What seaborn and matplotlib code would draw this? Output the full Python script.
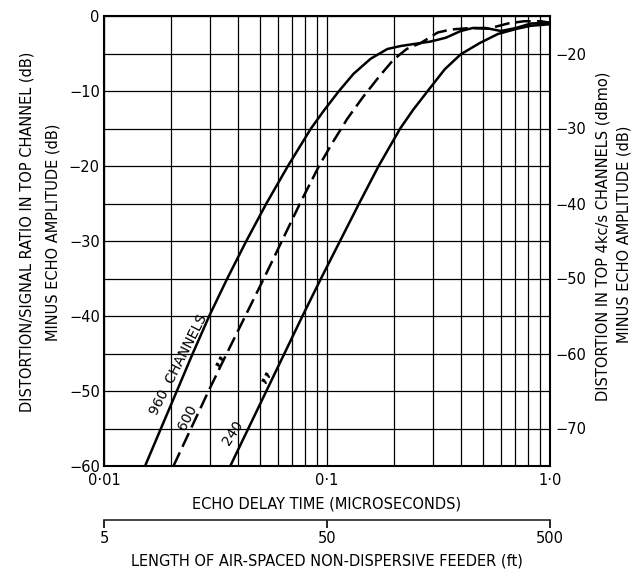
import numpy as np
import pandas as pd
import seaborn as sns
import matplotlib.pyplot as plt
from matplotlib.ticker import FixedLocator, FixedFormatter, NullFormatter, LogLocator

# echo delay (microseconds) vs distortion (dB)
t_960 = [0.01528, 0.01800, 0.02122, 0.02499, 0.02964, 0.03571, 0.04347, 0.05347,
         0.06680, 0.08474, 0.09745, 0.1132, 0.1316, 0.1569, 0.1865, 0.2140,
         0.2632, 0.2919, 0.3409, 0.3981, 0.4507, 0.5157, 0.6021, 0.7035, 0.8214, 1.0]
d_960 = [-60, -55, -50, -45, -40, -35, -30, -25,
         -20, -15, -12.5, -10, -7.7, -5.7, -4.4, -4.0,
         -3.6, -3.4, -2.9, -2.0, -1.6, -1.6, -2.0, -1.6, -1.0, -0.9]

t_600 = [0.02049, 0.02455, 0.02943, 0.03552, 0.04302, 0.05210, 0.06277, 0.07564,
         0.09207, 0.1053, 0.1233, 0.1459, 0.1722, 0.1990, 0.2277, 0.2632,
         0.3138, 0.3590, 0.4415, 0.5265, 0.6474, 0.7640, 0.9111, 1.0]
d_600 = [-60, -55, -50, -45, -40, -35, -30, -25,
         -20, -17, -13.7, -10.7, -8.0, -5.8, -4.4, -3.6,
         -2.2, -1.8, -1.6, -1.7, -1.0, -0.7, -0.7, -0.9]

t_240 = [0.03684, 0.04438, 0.05347, 0.06442, 0.07763, 0.09399, 0.1144, 0.1393,
         0.1704, 0.2129, 0.2435, 0.2829, 0.3374, 0.3981, 0.4845, 0.5837,
         0.7108, 0.8214, 1.0]
d_240 = [-60, -55, -50, -45, -40, -35, -30, -25,
         -20, -15, -12.5, -10, -7.1, -5.1, -3.6, -2.4,
         -1.7, -1.3, -1.1]

x_ticks = [0.01, 0.1, 1.0]
x_ticklabels = ['0·01', '0·1', '1·0']
y_ticks = [0, -10, -20, -30, -40, -50, -60]
right_ticks = [-20, -30, -40, -50, -60, -70]
ft_ticks = [5, 50, 500]

sns.set_style("white")
plt.rcParams['font.family'] = ['DejaVu Sans']
plt.rcParams['font.size'] = 10
for k in ['text.color', 'axes.labelcolor', 'xtick.color', 'ytick.color']:
    plt.rcParams[k] = 'black'

fig = plt.figure(figsize=(6.34, 5.71), dpi=100)
ax = fig.add_axes([104 / 634, 1 - 466 / 571, 446 / 634, 450 / 571])

df_960 = pd.DataFrame({'delay': t_960, 'dB': d_960})
df_600 = pd.DataFrame({'delay': t_600, 'dB': d_600})
df_240 = pd.DataFrame({'delay': t_240, 'dB': d_240})

sns.lineplot(data=df_960, x='delay', y='dB', color='black', linewidth=1.8, ax=ax)
l960 = ax.lines[-1]
sns.lineplot(data=df_600, x='delay', y='dB', color='black', linewidth=1.8, ax=ax)
l600 = ax.lines[-1]
l600.set_dashes((6, 2.5))
sns.lineplot(data=df_240, x='delay', y='dB', color='black', linewidth=1.8, ax=ax)
l240 = ax.lines[-1]
for ln in (l960, l600, l240):
    ln.set_solid_joinstyle('round')
    ln.set_dash_joinstyle('round')

ax.set_xscale('log')
ax.set_xlim(0.01, 1.0)
ax.set_ylim(-60, 0)

ax.xaxis.set_major_locator(FixedLocator(x_ticks))
ax.xaxis.set_major_formatter(FixedFormatter(x_ticklabels))
ax.xaxis.set_minor_locator(LogLocator(base=10, subs=np.arange(2, 10)))
ax.xaxis.set_minor_formatter(NullFormatter())
ax.yaxis.set_major_locator(FixedLocator(y_ticks))
ax.yaxis.set_minor_locator(FixedLocator(np.arange(-55, 0, 10)))
ax.set_yticklabels([str(v).replace('-', '\u2212') for v in y_ticks])

ax.grid(which='both', color='black', linewidth=0.9)
ax.tick_params(which='both', length=0)
ax.tick_params(axis='x', pad=5, labelsize=10.5)
ax.tick_params(axis='y', pad=3, labelsize=10.5)
for s in ax.spines.values():
    s.set_visible(True)
    s.set_color('black')
    s.set_linewidth(1.5)

ax.set_xlabel('ECHO DELAY TIME (MICROSECONDS)', fontsize=10.5, labelpad=6)
ax.set_ylabel('')

# right hand scale
ax2 = ax.twinx()
ax2.set_ylim(-75, -15)
ax2.yaxis.set_major_locator(FixedLocator(right_ticks))
ax2.set_yticklabels([str(v).replace('-', '\u2212') for v in right_ticks])
ax2.tick_params(axis='y', length=0, pad=4, labelsize=10.5)
ax2.grid(False)
for s in ax2.spines.values():
    s.set_visible(False)

# feeder length scale
sec = ax.secondary_xaxis(-0.12, functions=(lambda t: t * 500, lambda f: f / 500))
sec.set_xticks(ft_ticks)
sec.set_xticklabels([str(v) for v in ft_ticks])
sec.xaxis.set_minor_locator(FixedLocator([]))
sec.tick_params(axis='x', direction='out', length=6, width=1.2, pad=2, labelsize=10.5)
sec.spines['bottom'].set_linewidth(1.2)
sec.set_xlabel('LENGTH OF AIR-SPACED NON-DISPERSIVE FEEDER (ft)', fontsize=10.5, labelpad=5)

# curve labels
ax.text(0.0215, -46.5, '960  CHANNELS', rotation=63, ha='center', va='center', fontsize=10)
ax.text(0.0236, -53.5, '600', rotation=63, ha='center', va='center', fontsize=10)
ax.text(0.0318, -45.6, ',,', rotation=63, ha='center', va='center', fontsize=13,
        fontweight='bold')
ax.text(0.0380, -55.6, '240', rotation=57, ha='center', va='center', fontsize=10)
ax.text(0.0510, -47.8, ',,', rotation=63, ha='center', va='center', fontsize=13,
        fontweight='bold')

# axis titles
fig.text(27 / 634, 1 - 232 / 571, 'DISTORTION/SIGNAL RATIO IN TOP CHANNEL (dB)',
         rotation=90, ha='center', va='center', fontsize=10.5)
fig.text(53 / 634, 1 - 232 / 571, 'MINUS ECHO AMPLITUDE (dB)',
         rotation=90, ha='center', va='center', fontsize=10.5)
fig.text(603 / 634, 1 - 236 / 571, 'DISTORTION IN TOP 4kc/s CHANNELS (dBmo)',
         rotation=90, ha='center', va='center', fontsize=10.5)
fig.text(624 / 634, 1 - 234 / 571, 'MINUS ECHO AMPLITUDE (dB)',
         rotation=90, ha='center', va='center', fontsize=10.5)

fig.savefig('out.png', dpi=100)
